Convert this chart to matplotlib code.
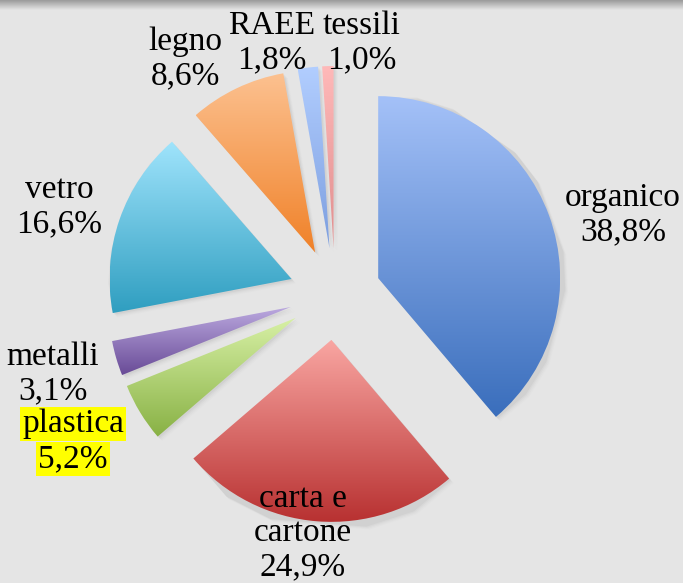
import matplotlib
matplotlib.use("Agg")
import matplotlib.pyplot as plt
import numpy as np
from matplotlib.colors import LinearSegmentedColormap

# ── Data ──────────────────────────────────────────────────────────────────────
categories = ["organico", "carta e\ncartone", "plastica", "metalli",
              "vetro", "legno", "RAEE", "tessili"]
shares = [38.8, 24.9, 5.2, 3.1, 16.6, 8.6, 1.8, 1.0]
pct_labels = ["38,8%", "24,9%", "5,2%", "3,1%", "16,6%", "8,6%", "1,8%", "1,0%"]

# top / bottom gradient colours per slice
grad_top = ["#a4c1f8", "#f9a6a2", "#d7f0a5", "#bcaae0",
            "#a0e4fc", "#fcc190", "#b2ceff", "#ffb9b9"]
grad_bot = ["#3a6ebc", "#b83131", "#88b144", "#694b97",
            "#2f9ec0", "#f08128", "#7c9edf", "#e08e8e"]

# label anchor positions (image pixels, y from top)
label_pos = [(623, 215), (303, 533), (73, 442), (53, 374),
             (59, 207), (185, 59), (272, 43), (362, 43)]

W, H = 683, 583
CX, CY = 335, H - 294
R = 182
EXPL = 46

fig = plt.figure(figsize=(W / 100, H / 100), dpi=100)
fig.patch.set_facecolor("#e5e5e5")
ax = fig.add_axes([0, 0, 1, 1])
ax.set_facecolor("#e5e5e5")

# dark band at top edge
band = np.linspace(0, 1, 50).reshape(-1, 1)
band_cmap = LinearSegmentedColormap.from_list("band", ["#9a9a9a", "#e5e5e5"])
ax.imshow(band, cmap=band_cmap, extent=(0, W, H - 10, H), aspect="auto",
          zorder=0.5)

wedges, _ = ax.pie(shares, radius=R, center=(CX, CY), startangle=90,
                   counterclock=False, explode=[EXPL] * len(shares),
                   wedgeprops=dict(facecolor="none", edgecolor="none"))

grad = np.linspace(1, 0, 256).reshape(-1, 1)
for w, top, bot in zip(wedges, grad_top, grad_bot):
    # soft drop shadow
    for k, a in enumerate([0.06, 0.045, 0.03, 0.02]):
        sh = plt.Polygon(w.get_path().vertices + np.array([1.5 + k, -1.5 - k]),
                         closed=True, facecolor="#6a6a6a", edgecolor="none",
                         alpha=a, zorder=1)
        ax.add_patch(sh)
    bb = w.get_path().get_extents()
    cmap = LinearSegmentedColormap.from_list("g", [bot, top])
    im = ax.imshow(grad, cmap=cmap, extent=(bb.x0, bb.x1, bb.y0, bb.y1),
                   aspect="auto", zorder=2, interpolation="bicubic")
    im.set_clip_path(w)

font = dict(family=["Liberation Serif", "DejaVu Serif"], fontsize=24,
            color="black")
for cat, pct, (lx, ly) in zip(categories, pct_labels, label_pos):
    if cat == "plastica":
        for txt, yy in [(cat, ly - 18), (pct, ly + 17)]:
            ax.text(lx, H - yy, txt, ha="center", va="center", zorder=5,
                    bbox=dict(boxstyle="square,pad=0.06", facecolor="#ffff00",
                              edgecolor="none"), **font)
    else:
        ax.text(lx, H - ly, f"{cat}\n{pct}", ha="center", va="center",
                linespacing=1.16, zorder=5, **font)

ax.set_xlim(0, W)
ax.set_ylim(0, H)
ax.set_aspect("auto")
ax.axis("off")

fig.savefig("out.png", dpi=100, facecolor=fig.get_facecolor())
plt.close(fig)
